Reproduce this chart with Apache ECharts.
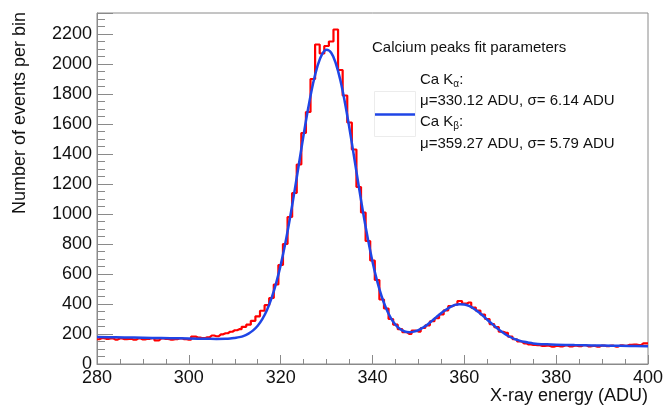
<!DOCTYPE html>
<html>
<head>
<meta charset="utf-8">
<script src="https://cdn.jsdelivr.net/npm/echarts@6/dist/echarts.min.js"></script>
<style>
	html, body { margin: 0; padding: 0; background: #fff; }
	#chart { width: 666px; height: 408px; }
</style>
</head>
<body>
<div id="chart"></div>
<script>
// histogram: 1 ADU bins, bin centres 280..399
const binStart = 280;
const counts = [
	165, 172, 168, 171, 163, 170, 166, 168, 162, 170,
	164, 168, 172, 158, 170, 167, 163, 166, 171, 165,
	162, 183, 176, 172, 178, 190, 185, 198, 205, 215,
	225, 232, 248, 262, 288, 318, 355, 392, 440, 530,
	660, 800, 980, 1140, 1330, 1540, 1680, 1900, 2130, 2070,
	2120, 2150, 2230, 1960, 1790, 1610, 1430, 1180, 1010, 820,
	690, 560, 430, 370, 300, 262, 232, 212, 200, 222,
	216, 240, 258, 285, 305, 330, 358, 386, 395, 420,
	402, 410, 376, 356, 330, 300, 266, 246, 215, 208,
	182, 165, 150, 138, 130, 128, 125, 120, 122, 116,
	121, 118, 124, 117, 122, 119, 126, 118, 121, 116,
	123, 119, 122, 116, 124, 121, 128, 130, 126, 138
];

// fit curve
const fitX = [
	280, 284, 288, 292, 296, 300, 304, 306, 308, 309,
	310, 311, 312, 313, 314, 315, 316, 317, 318, 319,
	320, 321, 322, 323, 324, 325, 326, 327, 328, 329,
	330, 331, 332, 333, 334, 335, 336, 337, 338, 339,
	340, 341, 342, 343, 344, 345, 346, 347, 348, 349,
	350, 351, 352, 353, 354, 355, 356, 357, 358, 359,
	360, 361, 362, 363, 364, 365, 366, 367, 368, 369,
	370, 371, 372, 373, 374, 375, 376, 378, 380, 384,
	388, 392, 396, 400
];
const fitY = [
	180, 178, 176, 174, 172, 170, 168, 167, 168, 170,
	174, 179, 188, 203, 224, 255, 299, 359, 437, 537,
	659, 803, 968, 1149, 1338, 1528, 1706, 1862, 1984, 2064,
	2095, 2075, 2005, 1892, 1742, 1567, 1378, 1187, 1002, 833,
	682, 554, 450, 368, 306, 262, 233, 217, 212, 216,
	226, 243, 264, 289, 315, 340, 362, 381, 394, 399,
	397, 387, 370, 348, 323, 295, 268, 242, 218, 197,
	180, 166, 156, 148, 142, 137, 134, 131, 129, 126,
	124, 122, 120, 118
];

const legendTitle = 'Calcium peaks fit parameters';
const legendLines = [
	'Ca K{s|α}:',
	'μ=330.12 ADU, σ= 6.14 ADU',
	'Ca K{s|β}:',
	'μ=359.27 ADU, σ= 5.79 ADU'
];

const font = '"Liberation Sans", Arial, sans-serif';
const axisGray = '#8a8a8a';

let histData = [];
for ( let i = 0; i < counts.length; i++ ) {
	histData.push( [ binStart + i, counts[i] ] );
}
// carry the last bin to the axis end
histData.push( [ binStart + counts.length, counts[counts.length - 1] ] );

let fitData = [];
for ( let i = 0; i < fitX.length; i++ ) {
	fitData.push( [ fitX[i], fitY[i] ] );
}

const myChart = echarts.init( document.getElementById( 'chart' ), null, { renderer: 'canvas' } );

const textBase = { fontFamily: font, fontSize: 15, fill: '#111' };
const legendY = [ 80, 101, 122, 144 ];
let graphic = [
	{ type: 'text', x: 372, y: 48, style: Object.assign( { text: legendTitle, verticalAlign: 'middle', textVerticalAlign: 'middle' }, textBase ) },
	// legend swatch box
	{ type: 'rect', shape: { x: 374.5, y: 91.5, width: 41, height: 45 }, style: { fill: 'none', stroke: '#ececec', lineWidth: 1 } },
	{ type: 'line', shape: { x1: 375, y1: 114.5, x2: 415, y2: 114.5 }, style: { stroke: '#1f45e6', lineWidth: 2.5 } },
	// axis titles
	{
		type: 'text', x: 20, y: 12, rotation: Math.PI / 2,
		style: { text: 'Number of events per bin', fontFamily: font, fontSize: 18, fill: '#111', align: 'right', textAlign: 'right', verticalAlign: 'middle', textVerticalAlign: 'middle' }
	},
	{
		type: 'text', x: 648, y: 396,
		style: { text: 'X-ray energy (ADU)', fontFamily: font, fontSize: 18, fill: '#111', align: 'right', textAlign: 'right', verticalAlign: 'middle', textVerticalAlign: 'middle' }
	}
];
for ( let i = 0; i < legendLines.length; i++ ) {
	graphic.push( {
		type: 'text', x: 420, y: legendY[i],
		style: Object.assign( {
			text: legendLines[i],
			verticalAlign: 'middle', textVerticalAlign: 'middle',
			lineHeight: 18,
			rich: {
				s: { fontFamily: font, fontSize: 10, lineHeight: 8, verticalAlign: 'bottom', fill: '#111' }
			}
		}, textBase )
	} );
}

const option = {
	animation: false,
	backgroundColor: '#fff',
	textStyle: { fontFamily: font },
	grid: {
		left: 97, right: 18, top: 13, bottom: 44,
		containLabel: false,
		outerBoundsMode: 'none',
		show: true, borderColor: axisGray, borderWidth: 1
	},
	xAxis: {
		type: 'value',
		min: 280, max: 400, interval: 20,
		axisLine: { lineStyle: { color: axisGray } },
		axisTick: { inside: true, length: 9, lineStyle: { color: axisGray } },
		minorTick: { show: true, splitNumber: 4, length: 5, lineStyle: { color: axisGray } },
		axisLabel: { fontSize: 18, color: '#111', margin: 5, formatter: v => String( v ) },
		splitLine: { show: false }
	},
	yAxis: {
		type: 'value',
		min: 0, max: 2340, interval: 200,
		axisLine: { show: true, lineStyle: { color: axisGray } },
		axisTick: { show: true, inside: true, length: 16, lineStyle: { color: axisGray } },
		minorTick: { show: true, splitNumber: 4, length: 8, lineStyle: { color: axisGray } },
		axisLabel: { fontSize: 18, color: '#111', margin: 5, showMaxLabel: false, formatter: v => String( v ) },
		splitLine: { show: false }
	},
	graphic,
	series: [
		{
			type: 'line',
			step: 'middle',
			data: histData,
			symbol: 'none',
			lineStyle: { color: '#ff0000', width: 2.2 },
			z: 2
		},
		{
			type: 'line',
			data: fitData,
			smooth: 0.4,
			symbol: 'none',
			lineStyle: { color: '#1f45e6', width: 2.5 },
			z: 3
		}
	]
};
myChart.setOption( option );
</script>
</body>
</html>
